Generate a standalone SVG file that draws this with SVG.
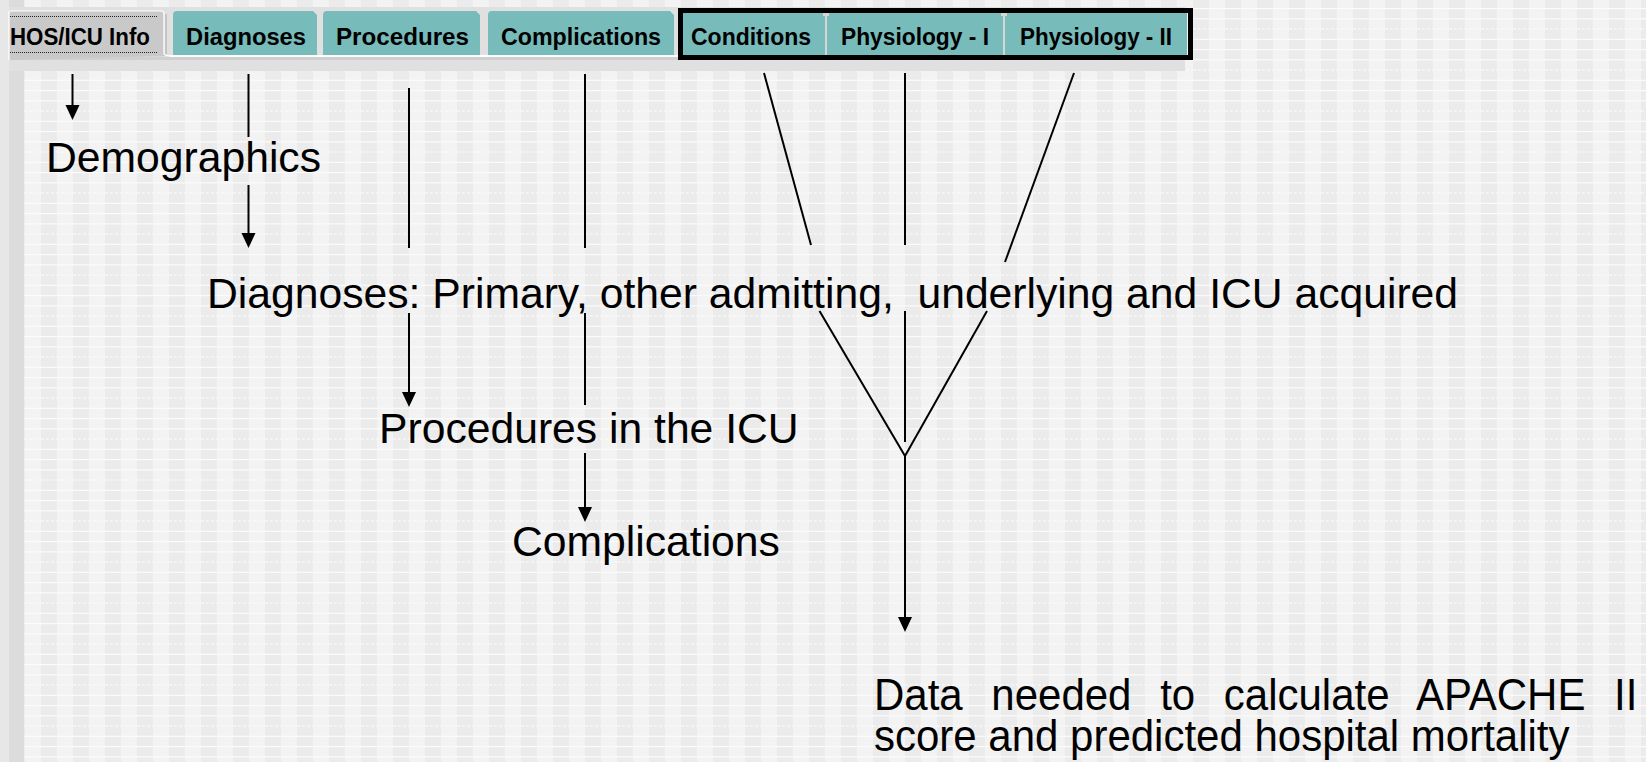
<svg xmlns="http://www.w3.org/2000/svg" width="1646" height="762" viewBox="0 0 1646 762">
<defs>
<pattern id="bg" x="9" y="8" width="32" height="41" patternUnits="userSpaceOnUse">
<rect x="0" y="0" width="32" height="41" fill="#f3f3f3"/>
<rect x="0" y="0" width="16" height="41" fill="#ebebeb"/>
<rect x="0" y="0" width="32" height="1.2" fill="#fbfbfb"/>
<rect x="0" y="10.25" width="32" height="1.2" fill="#fbfbfb"/>
<line x1="0" y1="21" x2="32" y2="21" stroke="#fbfbfb" stroke-width="1.2" stroke-dasharray="3 2"/>
<rect x="0" y="30.75" width="32" height="1.2" fill="#fbfbfb"/>
</pattern>
<marker id="arr" markerUnits="userSpaceOnUse" markerWidth="16" markerHeight="16" viewBox="0 0 16 16" refX="3" refY="7" orient="auto">
<path d="M0,0 L15,7 L0,14 Z" fill="#000"/>
</marker>
<style>
.tab{fill:#77bbbb}
.tl{font-family:"Liberation Sans",Arial,sans-serif;font-weight:bold;font-size:23px;fill:#000}
.t{font-family:"Liberation Sans",Arial,sans-serif;font-size:42.67px;fill:#000}
.tb{font-family:"Liberation Sans",Arial,sans-serif;font-size:42px;fill:#000}
.c line{stroke:#000;stroke-width:2;fill:none}
.c .a{marker-end:url(#arr)}
</style>
</defs>
<rect width="1646" height="762" fill="url(#bg)"/>
<rect x="0" y="0" width="9" height="762" fill="#e7e7e7"/>
<rect x="9" y="0" width="15" height="762" fill="#dcdcdc"/>

<g id="tabbar">
<rect x="9" y="7" width="1176" height="64" fill="#e0e0e0"/>
<rect x="9" y="57" width="1176" height="3" fill="#d0d0d0"/>
<rect x="170" y="55" width="510" height="2" fill="#ffffff"/>
</g>

<g id="tab-hos">
<path d="M9,60 V13 Q9,11 11,11 H161 Q164,11 164,14 V54 Q165,56 172,56" fill="#c9c9c9" stroke="#ffffff" stroke-width="1.2"/>
<line x1="166" y1="14" x2="166" y2="54" stroke="#a8a8a8" stroke-width="1"/>
<line x1="10" y1="16.5" x2="157" y2="16.5" stroke="#222" stroke-width="1" stroke-dasharray="1 1"/>
<line x1="10" y1="52.5" x2="157" y2="52.5" stroke="#222" stroke-width="1" stroke-dasharray="1 1"/>
<text class="tl" x="10" y="44.5" textLength="140" lengthAdjust="spacingAndGlyphs">HOS/ICU Info</text>
</g>
<g id="tab-diagnoses">
<path class="tab" d="M173,55 V15 Q173,11 177,11 H313 L317,15 V55 Z"/>
<text class="tl" x="186" y="44.5" textLength="120" lengthAdjust="spacingAndGlyphs">Diagnoses</text>
</g>
<g id="tab-procedures">
<path class="tab" d="M323,55 V15 Q323,11 327,11 H476 L480,15 V55 Z"/>
<text class="tl" x="336" y="44.5" textLength="133" lengthAdjust="spacingAndGlyphs">Procedures</text>
</g>
<g id="tab-complications">
<path class="tab" d="M488,55 V15 Q488,11 492,11 H670 L674,15 V55 Z"/>
<text class="tl" x="501" y="44.5" textLength="160" lengthAdjust="spacingAndGlyphs">Complications</text>
</g>
<g id="tab-conditions">
<rect class="tab" x="683" y="13" width="142" height="42"/>
<text class="tl" x="691" y="44.5" textLength="120" lengthAdjust="spacingAndGlyphs">Conditions</text>
</g>
<g id="tab-phys1">
<rect class="tab" x="827" y="13" width="176" height="42"/>
<text class="tl" x="841" y="44.5" textLength="148" lengthAdjust="spacingAndGlyphs">Physiology - I</text>
</g>
<g id="tab-phys2">
<rect class="tab" x="1005" y="13" width="182" height="42"/>
<text class="tl" x="1020" y="44.5" textLength="152" lengthAdjust="spacingAndGlyphs">Physiology - II</text>
</g>
<g id="tab-separators" fill="#d6d6d6">
<rect x="825" y="16" width="2" height="39"/>
<rect x="823" y="13" width="6" height="3"/>
<rect x="1003" y="16" width="2" height="39"/>
<rect x="1001" y="13" width="6" height="3"/>
</g>
<g id="highlight-box">
<rect x="680.5" y="10.5" width="510" height="47" fill="none" stroke="#000" stroke-width="5"/>
</g>

<g id="n-demographics"><text class="t" x="46" y="172">Demographics</text></g>
<g id="n-diagnoses"><text class="t" x="207" y="308" xml:space="preserve" style="white-space:pre">Diagnoses: Primary, other admitting,  underlying and ICU acquired</text></g>
<g id="n-procedures"><text class="t" x="379" y="443">Procedures in the ICU</text></g>
<g id="n-complications"><text class="t" x="512" y="556">Complications</text></g>
<g id="n-apache">
<text class="tb" transform="translate(874,710) scale(1,1.06)" x="0" y="0" word-spacing="17">Data needed to calculate APACHE II</text>
<text class="tb" transform="translate(874,751) scale(1,1.06)" x="0" y="0">score and predicted hospital mortality</text>
</g>

<g id="connectors" class="c">
<line class="a" x1="72.5" y1="74" x2="72.5" y2="108"/>
<line x1="248.5" y1="74" x2="248.5" y2="137"/>
<line class="a" x1="248.5" y1="185" x2="248.5" y2="236"/>
<line x1="409" y1="88" x2="409" y2="248"/>
<line class="a" x1="409" y1="313" x2="409" y2="395"/>
<line x1="585" y1="74" x2="585" y2="248"/>
<line x1="585" y1="313" x2="585" y2="405"/>
<line class="a" x1="585" y1="453" x2="585" y2="510"/>
<line x1="764" y1="73" x2="811" y2="245"/>
<line x1="905" y1="73" x2="905" y2="245"/>
<line x1="1074" y1="73" x2="1005" y2="262"/>
<line x1="819.5" y1="311" x2="905" y2="456"/>
<line x1="987" y1="311" x2="905" y2="456"/>
<line x1="905" y1="311" x2="905" y2="442"/>
<line class="a" x1="905" y1="456" x2="905" y2="620"/>
</g>
</svg>
